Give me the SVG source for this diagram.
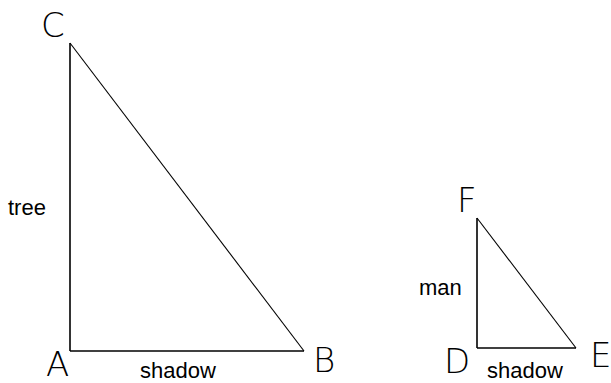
<svg xmlns="http://www.w3.org/2000/svg" width="611" height="383" viewBox="0 0 611 383">
<style>
.leg{stroke:#000;stroke-width:1.6;fill:none}
.hyp{stroke:#000;stroke-width:1.1;fill:none}
.big{font-family:"DejaVu Sans","Liberation Sans",sans-serif;font-weight:200;font-size:34px;fill:#000}
.small{font-family:"Liberation Sans",Arial,sans-serif;font-size:22px;fill:#000}
</style>
<rect width="611" height="383" fill="#fff"/>
<g id="connectors">
<line class="leg" x1="70" y1="43" x2="70" y2="351"/>
<line class="leg" x1="70" y1="351" x2="304" y2="351"/>
<line class="hyp" x1="70" y1="43" x2="304" y2="351"/>
<line class="leg" x1="477" y1="218" x2="477" y2="348"/>
<line class="leg" x1="477" y1="348" x2="576" y2="348"/>
<line class="hyp" x1="477" y1="218" x2="576" y2="348"/>
</g>
<g id="C"><text class="big" x="41" y="37">C</text></g>
<g id="A"><text class="big" x="46" y="376">A</text></g>
<g id="B"><text class="big" x="313" y="372">B</text></g>
<g id="F"><text class="big" x="457" y="212">F</text></g>
<g id="D"><text class="big" x="444" y="373">D</text></g>
<g id="E"><text class="big" x="590" y="367">E</text></g>
<g id="tree"><text class="small" x="8" y="215">tree</text></g>
<g id="shadow1"><text class="small" x="140" y="378">shadow</text></g>
<g id="man"><text class="small" x="419" y="295">man</text></g>
<g id="shadow2"><text class="small" x="487" y="378">shadow</text></g>
</svg>
